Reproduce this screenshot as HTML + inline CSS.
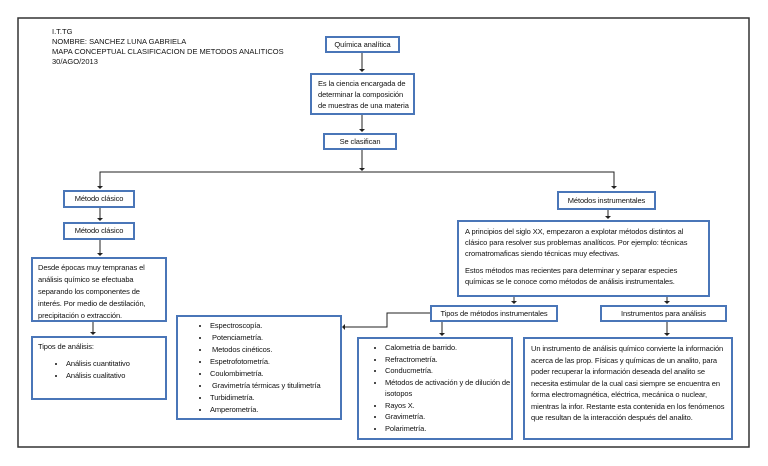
<!DOCTYPE html>
<html><head><meta charset="utf-8"><style>
body{margin:0;width:768px;height:466px;background:#fff;position:relative;overflow:hidden;font-family:"Liberation Sans",sans-serif;color:#111}
.b{position:absolute;border:2.5px solid #4a76b8;box-sizing:border-box;background:#fff;font-size:7.5px;line-height:10px;letter-spacing:-0.1px}
.c{display:flex;align-items:center;justify-content:center;text-align:center}
.t{position:absolute;font-size:7.5px;line-height:10px}
ul{margin:0;padding-left:22px}
svg{position:absolute;left:0;top:0}
</style></head><body>
<svg width="768" height="466">
<rect x="18" y="18" width="731" height="429" fill="none" stroke="#333" stroke-width="1.5"/>
<g stroke="#222" stroke-width="1" fill="none">
<line x1="362" y1="52" x2="362" y2="71"/>
<line x1="362" y1="115" x2="362" y2="131"/>
<line x1="362" y1="150" x2="362" y2="168"/>
<polyline points="100,188 100,172 614,172 614,188"/>
<line x1="100" y1="208" x2="100" y2="220"/>
<line x1="100" y1="240" x2="100" y2="255"/>
<line x1="93" y1="322" x2="93" y2="334"/>
<line x1="608" y1="210" x2="608" y2="218"/>
<line x1="514" y1="297" x2="514" y2="303"/>
<line x1="667" y1="297" x2="667" y2="303"/>
<line x1="442" y1="322" x2="442" y2="335"/>
<line x1="667" y1="322" x2="667" y2="335"/>
<polyline points="430,313 387,313 387,327 345,327"/>
</g>
<g fill="#222">
<path d="M359,69 h6 l-3,3z"/><path d="M359,129 h6 l-3,3z"/><path d="M359,168 h6 l-3,3z"/>
<path d="M97,186 h6 l-3,3z"/><path d="M611,186 h6 l-3,3z"/><path d="M97,218 h6 l-3,3z"/>
<path d="M97,253 h6 l-3,3z"/><path d="M90,332 h6 l-3,3z"/><path d="M605,216 h6 l-3,3z"/>
<path d="M511,301 h6 l-3,3z"/><path d="M664,301 h6 l-3,3z"/><path d="M439,333 h6 l-3,3z"/>
<path d="M664,333 h6 l-3,3z"/><path d="M345,324 v6 l-3,-3z"/>
</g>
</svg>
<div class="t" style="left:52px;top:27px">I.T.TG<br>NOMBRE: SANCHEZ LUNA GABRIELA<br>MAPA CONCEPTUAL CLASIFICACION DE METODOS ANALITICOS<br>30/AGO/2013</div>
<div class="b c" style="left:325px;top:36px;width:75px;height:17px">Química analítica</div>
<div class="b" style="left:310px;top:73px;width:105px;height:42px;padding:3px 0 0 6px;line-height:11px">Es la ciencia encargada de determinar la composición de muestras de una materia</div>
<div class="b c" style="left:323px;top:133px;width:74px;height:17px">Se clasifican</div>
<div class="b c" style="left:63px;top:190px;width:72px;height:18px">Método clásico</div>
<div class="b c" style="left:63px;top:222px;width:72px;height:18px">Método clásico</div>
<div class="b" style="left:31px;top:257px;width:136px;height:65px;padding:3px 5px;line-height:12px">Desde épocas muy tempranas el análisis químico se efectuaba separando los componentes de interés. Por medio de destilación, precipitación o extracción.</div>
<div class="b" style="left:31px;top:336px;width:136px;height:64px;padding:4px 5px">Tipos de análisis:<ul style="margin-top:6px;padding-left:28px"><li style="line-height:12px">Análisis cuantitativo</li><li style="line-height:12px">Análisis cualitativo</li></ul></div>
<div class="b c" style="left:557px;top:191px;width:99px;height:19px">Métodos instrumentales</div>
<div class="b" style="left:457px;top:220px;width:253px;height:77px;padding:4px 6px;line-height:11px">A principios del siglo XX, empezaron a explotar métodos distintos al clásico para resolver sus problemas analíticos. Por ejemplo: técnicas cromatromaficas siendo técnicas muy efectivas.<div style="margin-top:6px">Estos métodos mas recientes para determinar y separar especies químicas se le conoce como métodos de análisis instrumentales.</div></div>
<div class="b c" style="left:430px;top:305px;width:128px;height:17px">Tipos de métodos instrumentales</div>
<div class="b c" style="left:600px;top:305px;width:127px;height:17px">Instrumentos para análisis</div>
<div class="b" style="left:176px;top:315px;width:166px;height:105px;padding:3px 0 0 10px;line-height:12px"><ul><li>Espectroscopía.</li><li>&nbsp;Potenciametría.</li><li>&nbsp;Metodos cinéticos.</li><li>Espetrofotometría.</li><li>Coulombimetría.</li><li>&nbsp;Gravimetría térmicas y titulimetría</li><li>Turbidimetría.</li><li>Amperometría.</li></ul></div>
<div class="b" style="left:357px;top:337px;width:156px;height:103px;padding:3px 0 0 4px;line-height:11.5px"><ul><li>Calometria de barrido.</li><li>Refractrometría.</li><li>Conducmetría.</li><li>Métodos de activación y de dilución de isotopos</li><li>Rayos X.</li><li>Gravimetría.</li><li>Polarimetría.</li></ul></div>
<div class="b" style="left:523px;top:337px;width:210px;height:103px;padding:4px 6px;line-height:11.5px">Un instrumento de análisis químico convierte la información acerca de las prop. Físicas y químicas de un analito, para poder recuperar la información deseada del analito se necesita estimular de la cual casi siempre se encuentra en forma electromagnética, eléctrica, mecánica o nuclear, mientras la infor. Restante esta contenida en los fenómenos que resultan de la interacción después del analito.</div>
</body></html>
